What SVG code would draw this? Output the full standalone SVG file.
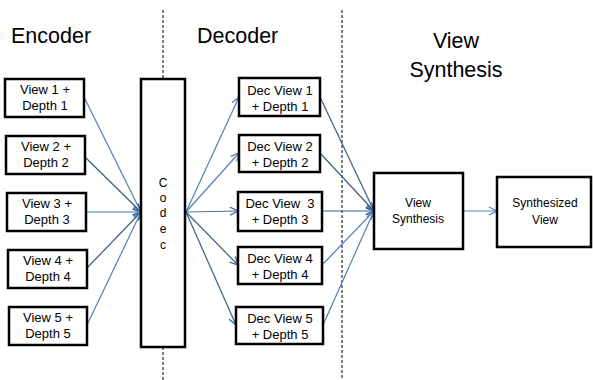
<svg xmlns="http://www.w3.org/2000/svg" width="593" height="380" viewBox="0 0 593 380">
  <style>
    .box { fill: #fff; stroke: #000; stroke-width: 2.5; }
    .hdr { font-family: "Liberation Sans", Arial, sans-serif; font-size: 21.5px; fill: #000; }
    .lbl { font-family: "Liberation Sans", Arial, sans-serif; font-size: 13px; fill: #000; text-anchor: middle; white-space: pre; }
    .sm { font-size: 12px; }
    .sep { stroke: #000; stroke-width: 1; stroke-dasharray: 3 2; fill: none; }
    .lt { stroke: #4F81BD; stroke-width: 1.2; fill: none; }
    .md { stroke: #4570A6; stroke-width: 1.2; fill: none; }
    .dk { stroke: #385D8A; stroke-width: 1.2; fill: none; }
  </style>
  <defs>
    <marker id="ah-lt" viewBox="0 0 10 10" refX="9" refY="5" markerWidth="10" markerHeight="10" markerUnits="userSpaceOnUse" orient="auto">
      <path d="M1,1 L9,5 L1,9" fill="none" stroke="#4F81BD" stroke-width="1.3"/>
    </marker>
    <marker id="ah-md" viewBox="0 0 10 10" refX="9" refY="5" markerWidth="10" markerHeight="10" markerUnits="userSpaceOnUse" orient="auto">
      <path d="M1,1 L9,5 L1,9" fill="none" stroke="#4570A6" stroke-width="1.3"/>
    </marker>
    <marker id="ah-dk" viewBox="0 0 10 10" refX="9" refY="5" markerWidth="10" markerHeight="10" markerUnits="userSpaceOnUse" orient="auto">
      <path d="M1,1 L9,5 L1,9" fill="none" stroke="#385D8A" stroke-width="1.3"/>
    </marker>
  </defs>

  <rect width="593" height="380" fill="#fff"/>

  <!-- stage separators -->
  <g id="separators">
    <line class="sep" x1="163" y1="10" x2="163" y2="79"/>
    <line class="sep" x1="163" y1="347" x2="163" y2="380"/>
    <line class="sep" x1="342" y1="10" x2="342" y2="380"/>
  </g>

  <!-- stage headings -->
  <g id="headings">
    <text class="hdr" x="11" y="43">Encoder</text>
    <text class="hdr" x="197" y="43">Decoder</text>
    <text class="hdr" x="456" y="48" text-anchor="middle">View</text>
    <text class="hdr" x="456" y="77" text-anchor="middle">Synthesis</text>
  </g>

  <!-- connectors -->
  <g id="connectors">
    <!-- inputs into codec -->
    <line class="lt" x1="84" y1="97" x2="141" y2="212" marker-end="url(#ah-lt)"/>
    <line class="dk" x1="85" y1="157" x2="141" y2="212" marker-end="url(#ah-dk)"/>
    <line class="md" x1="86" y1="212" x2="141" y2="212" marker-end="url(#ah-md)"/>
    <line class="dk" x1="87" y1="268" x2="141" y2="212" marker-end="url(#ah-dk)"/>
    <line class="lt" x1="87" y1="325" x2="141" y2="212" marker-end="url(#ah-lt)"/>
    <!-- codec out to decoded views -->
    <line class="lt" x1="186" y1="212" x2="239" y2="97" marker-end="url(#ah-lt)"/>
    <line class="lt" x1="186" y1="212" x2="239" y2="153" marker-end="url(#ah-lt)"/>
    <line class="md" x1="186" y1="212" x2="238" y2="211" marker-end="url(#ah-md)"/>
    <line class="dk" x1="186" y1="212" x2="238" y2="265" marker-end="url(#ah-dk)"/>
    <line class="dk" x1="186" y1="212" x2="236" y2="325" marker-end="url(#ah-dk)"/>
    <!-- decoded views into synthesis -->
    <line class="dk" x1="320" y1="97" x2="374" y2="211" marker-end="url(#ah-dk)"/>
    <line class="dk" x1="320" y1="153" x2="374" y2="211" marker-end="url(#ah-dk)"/>
    <line class="dk" x1="322" y1="211" x2="374" y2="211" marker-end="url(#ah-dk)"/>
    <line class="lt" x1="322" y1="265" x2="374" y2="211" marker-end="url(#ah-lt)"/>
    <line class="lt" x1="323" y1="325" x2="374" y2="211" marker-end="url(#ah-lt)"/>
    <!-- synthesis to output -->
    <line class="lt" x1="463" y1="211" x2="497" y2="211" marker-end="url(#ah-lt)"/>
  </g>

  <!-- encoder inputs -->
  <g id="view1">
    <rect class="box" x="5" y="79" width="79" height="38"/>
    <text class="lbl" x="45" y="94">View 1 +</text>
    <text class="lbl" x="45" y="110">Depth 1</text>
  </g>
  <g id="view2">
    <rect class="box" x="6" y="136" width="79" height="38"/>
    <text class="lbl" x="46" y="151">View 2 +</text>
    <text class="lbl" x="46" y="167">Depth 2</text>
  </g>
  <g id="view3">
    <rect class="box" x="7" y="193" width="79" height="38"/>
    <text class="lbl" x="47" y="208">View 3 +</text>
    <text class="lbl" x="47" y="224">Depth 3</text>
  </g>
  <g id="view4">
    <rect class="box" x="8" y="250" width="79" height="38"/>
    <text class="lbl" x="48" y="265">View 4 +</text>
    <text class="lbl" x="48" y="281">Depth 4</text>
  </g>
  <g id="view5">
    <rect class="box" x="9" y="307" width="78" height="38"/>
    <text class="lbl" x="48" y="322">View 5 +</text>
    <text class="lbl" x="48" y="338">Depth 5</text>
  </g>

  <!-- codec -->
  <g id="codec">
    <rect class="box" x="141" y="79" width="44" height="268"/>
    <text class="lbl sm" x="163" y="187">C</text>
    <text class="lbl sm" x="163" y="202">o</text>
    <text class="lbl sm" x="163" y="217">d</text>
    <text class="lbl sm" x="163" y="233">e</text>
    <text class="lbl sm" x="163" y="249">c</text>
  </g>

  <!-- decoded views -->
  <g id="dec1">
    <rect class="box" x="239" y="78" width="81" height="38"/>
    <text class="lbl" x="280" y="95">Dec View 1</text>
    <text class="lbl" x="280" y="111">+ Depth 1</text>
  </g>
  <g id="dec2">
    <rect class="box" x="239" y="135" width="81" height="37"/>
    <text class="lbl" x="280" y="151">Dec View 2</text>
    <text class="lbl" x="280" y="167">+ Depth 2</text>
  </g>
  <g id="dec3">
    <rect class="box" x="238" y="192" width="84" height="39"/>
    <text class="lbl" x="280" y="208">Dec View  3</text>
    <text class="lbl" x="280" y="224">+ Depth 3</text>
  </g>
  <g id="dec4">
    <rect class="box" x="238" y="247" width="84" height="37"/>
    <text class="lbl" x="280" y="263">Dec View 4</text>
    <text class="lbl" x="280" y="279">+ Depth 4</text>
  </g>
  <g id="dec5">
    <rect class="box" x="236" y="307" width="87" height="37"/>
    <text class="lbl" x="280" y="323">Dec View 5</text>
    <text class="lbl" x="280" y="339">+ Depth 5</text>
  </g>

  <!-- synthesis stage -->
  <g id="view-synthesis">
    <rect class="box" x="374" y="173" width="89" height="76"/>
    <text class="lbl sm" x="418" y="207">View</text>
    <text class="lbl sm" x="418" y="223">Synthesis</text>
  </g>
  <g id="synthesized-view">
    <rect class="box" x="497" y="177" width="94" height="70"/>
    <text class="lbl sm" x="545" y="207">Synthesized</text>
    <text class="lbl sm" x="545" y="224">View</text>
  </g>
</svg>
